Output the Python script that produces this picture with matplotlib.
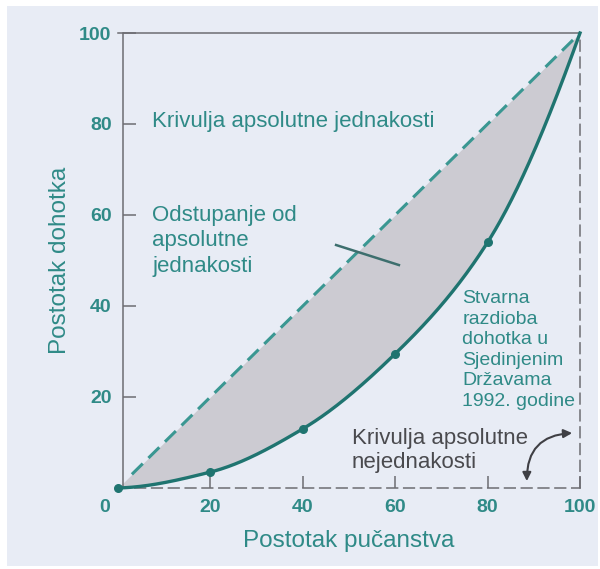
import matplotlib
matplotlib.use("Agg")
import matplotlib.pyplot as plt
import numpy as np
from matplotlib.patches import Rectangle, FancyArrowPatch

# Lorenz curve data
pop_share = [0, 20, 40, 60, 80, 100]
income_share = [0, 3.5, 13.0, 29.5, 54.0, 100]
x_ticks = [20, 40, 60, 80, 100]
y_ticks = [20, 40, 60, 80, 100]

TEAL = "#2f8a87"
TEAL_LINE = "#1f7470"
TEAL_DASH = "#3a9792"
GRAY = "#6d6d72"
BG = "#e8ecf5"
FILL = "#cccbd2"

plt.rcParams["font.family"] = ["Liberation Sans", "DejaVu Sans"]


def pchip(xs, ys, xq):
    """Monotone cubic curve through the data points (only for a smooth line)."""
    xs = np.asarray(xs, float)
    ys = np.asarray(ys, float)
    h = np.diff(xs)
    d = np.diff(ys) / h
    m = np.zeros_like(ys)
    for k in range(1, len(xs) - 1):
        if d[k - 1] * d[k] > 0:
            w1 = 2 * h[k] + h[k - 1]
            w2 = h[k] + 2 * h[k - 1]
            m[k] = (w1 + w2) / (w1 / d[k - 1] + w2 / d[k])
    m[0] = max(0, ((2 * h[0] + h[1]) * d[0] - h[0] * d[1]) / (h[0] + h[1]))
    m[-1] = max(0, ((2 * h[-1] + h[-2]) * d[-1] - h[-1] * d[-2]) / (h[-1] + h[-2]))
    idx = np.clip(np.searchsorted(xs, xq) - 1, 0, len(xs) - 2)
    t = (xq - xs[idx]) / h[idx]
    h00 = 2 * t**3 - 3 * t**2 + 1
    h10 = t**3 - 2 * t**2 + t
    h01 = -2 * t**3 + 3 * t**2
    h11 = t**3 - t**2
    return h00 * ys[idx] + h10 * h[idx] * m[idx] + h01 * ys[idx + 1] + h11 * h[idx] * m[idx + 1]


fig = plt.figure(figsize=(6, 5.69), dpi=100)
fig.patch.set_facecolor("white")
fig.patches.append(Rectangle((0.012, 0.005), 0.985, 0.984, transform=fig.transFigure,
                             facecolor=BG, edgecolor="none", zorder=-10))

ax = fig.add_axes([0.1967, 0.1424, 0.77, 0.7996])
ax.set_facecolor("none")
ax.set_xlim(0, 100)
ax.set_ylim(0, 100)

# spines: solid left/top, dashed right/bottom
for side in ["left", "top", "right", "bottom"]:
    ax.spines[side].set_color(GRAY)
    ax.spines[side].set_linewidth(1.1)
ax.spines["left"].set_position(("data", 1))
ax.spines["right"].set_linestyle((0, (7, 4)))
ax.spines["bottom"].set_linestyle((0, (7, 4)))

xs = np.linspace(0, 100, 400)
curve = pchip(pop_share, income_share, xs)

# shaded area between equality line and the Lorenz curve
ax.fill_between(xs, curve, xs, color=FILL, linewidth=0, zorder=1)

# line of absolute equality
ax.plot([3, 100], [3, 100], color=TEAL_DASH, lw=2.2, ls=(0, (5, 2.6)), zorder=3)

# actual distribution
ax.plot(xs, curve, color=TEAL_LINE, lw=2.4, zorder=4, clip_on=False)
ax.scatter(pop_share[:-1], income_share[:-1], s=30, color=TEAL_LINE, zorder=5, clip_on=False)

# ticks
ax.set_xticks(x_ticks)
ax.set_yticks(y_ticks)
ax.tick_params(direction="in", length=9, width=1.1, color=GRAY,
               labelcolor=TEAL, labelsize=14, pad=8)
for lab in ax.get_xticklabels() + ax.get_yticklabels():
    lab.set_fontweight("bold")
ax.text(-3, -2.5, "0", color=TEAL, fontsize=14, fontweight="bold", ha="center", va="top")

ax.set_xlabel("Postotak pučanstva", color=TEAL, fontsize=17.5, labelpad=10)
ax.set_ylabel("Postotak dohotka", color=TEAL, fontsize=17.5, labelpad=6)

# annotations
ax.text(7.4, 79.3, "Krivulja apsolutne jednakosti", color=TEAL, fontsize=16,
        ha="left", va="baseline")
ax.text(7.4, 62.2, "Odstupanje od\napsolutne\njednakosti", color=TEAL, fontsize=16,
        ha="left", va="top", linespacing=1.28)
ax.plot([47.2, 60.8], [53.4, 49.0], color="#3d6f6e", lw=1.8, zorder=6)
ax.text(74.5, 43.5, "Stvarna\nrazdioba\ndohotka u\nSjedinjenim\nDržavama\n1992. godine",
        color=TEAL, fontsize=14, ha="left", va="top", linespacing=1.27)
ax.text(50.6, 13.2, "Krivulja apsolutne\nnejednakosti", color="#4a4a4e", fontsize=16,
        ha="left", va="top", linespacing=1.22)
arrow = FancyArrowPatch((98.9, 12.1), (88.5, 0.9), arrowstyle="<|-|>,head_length=5,head_width=2.5",
                        connectionstyle="arc3,rad=0.5", color="#3f3f44", lw=1.5, zorder=6)
ax.add_patch(arrow)

fig.savefig("out.png", dpi=100, facecolor=fig.get_facecolor())
